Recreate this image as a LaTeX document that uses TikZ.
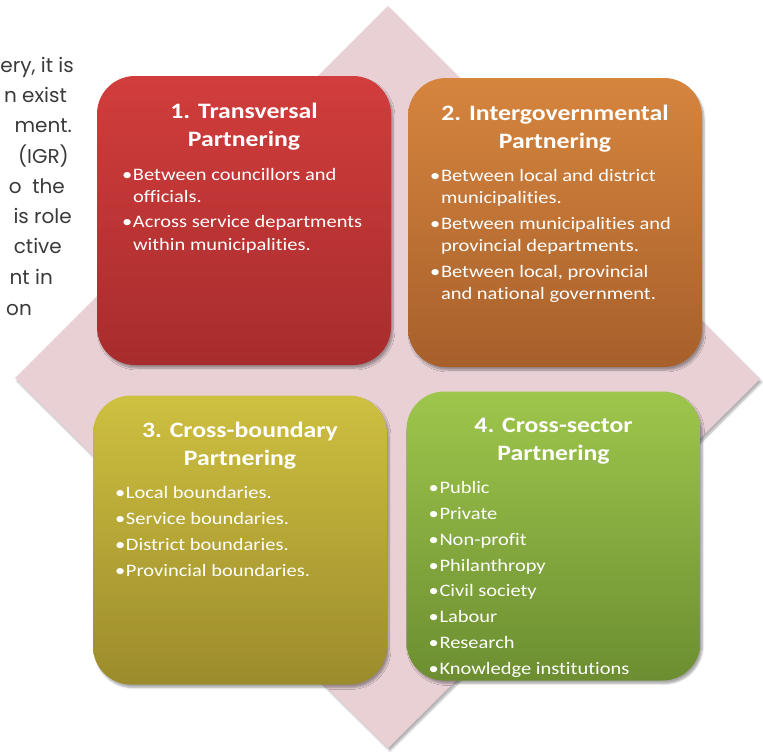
\documentclass[tikz,border=0pt]{standalone}
\usepackage{fontspec}
\setmainfont{Carlito}[FakeStretch=1.17, Ligatures=CommonOff]
\newfontfamily\pagefont{Poppins}
\usetikzlibrary{shadows.blur}

\definecolor{diamondpink}{HTML}{E8D0D5}
\definecolor{pagegray}{HTML}{3A3A3A}
\definecolor{redtop}{HTML}{D13D3C}
\definecolor{redbot}{HTML}{A82C2D}
\definecolor{orangetop}{HTML}{D6853E}
\definecolor{orangebot}{HTML}{A7602B}
\definecolor{yellowtop}{HTML}{CEC040}
\definecolor{yellowbot}{HTML}{9C8B2C}
\definecolor{greentop}{HTML}{9EC64C}
\definecolor{greenbot}{HTML}{6C8E31}

\newcommand{\pbul}{\makebox[11pt][l]{\textbullet}}
\newcommand{\pind}{\hspace*{11pt}}

\tikzset{
  partbox/.style={rectangle, rounded corners=38pt, minimum width=294pt,
    minimum height=289pt, inner sep=0pt,
    blur shadow={shadow xshift=2pt, shadow yshift=-3pt, shadow blur steps=6, shadow opacity=35}},
  parttitle/.style={anchor=north, align=center, text=white, inner sep=0pt,
    font=\fontsize{22}{28}\selectfont\bfseries},
  partlist/.style={anchor=north west, align=left, text=white, inner sep=0pt,
    font=\fontsize{17.5}{22.5}\selectfont},
  pagetext/.style={anchor=base east, text=pagegray, inner sep=0pt,
    font=\pagefont\fontsize{20}{20}\selectfont}
}

\begin{document}
\begin{tikzpicture}[x=1pt,y=-1pt]
\clip (0,0) rectangle (763,755);

% text of the page behind
\node[pagetext] (p1) at (74,72) {ery, it is};
\node[pagetext] (p2) at (67,102) {n exist};
\node[pagetext] (p3) at (72,132) {ment.};
\node[pagetext] (p4) at (69,163) {(IGR)};
\node[pagetext] (p5) at (65,193) {o\ \ the};
\node[pagetext] (p6) at (72,223) {is role};
\node[pagetext] (p7) at (62,253) {ctive};
\node[pagetext] (p8) at (53,284) {nt in};
\node[pagetext] (p9) at (32,315) {on};

% diamond
\path[fill=diamondpink, blur shadow={shadow xshift=2pt, shadow yshift=-3pt, shadow blur steps=5, shadow opacity=30}]
  (388,6) -- (760,379) -- (388,748) -- (15,378) -- cycle;

% boxes
\node[partbox, top color=redtop, bottom color=redbot] (trans) at (244,220.5) {};
\node[partbox, top color=orangetop, bottom color=orangebot] (inter) at (555,222.5) {};
\node[partbox, top color=yellowtop, bottom color=yellowbot] (cross) at (240,540) {};
\node[partbox, top color=greentop, bottom color=greenbot] (sector) at (553.5,536) {};

% titles
\node[parttitle] (t1) at ([yshift=-27pt]trans.north) {1. Transversal\\Partnering};
\node[parttitle] (t2) at ([yshift=-27pt]inter.north) {2. Intergovernmental\\Partnering};
\node[parttitle] (t3) at ([yshift=-27pt]cross.north) {3. Cross-boundary\\Partnering};
\node[parttitle] (t4) at ([yshift=-27pt]sector.north) {4. Cross-sector\\Partnering};

% bullets
\node[partlist] (l1) at ([xshift=25pt,yshift=-92pt]trans.north west)
  {\pbul Between councillors and\\ \pind officials.\\[2.5pt]
   \pbul Across service departments\\ \pind within municipalities.};
\node[partlist] (l2) at ([xshift=22pt,yshift=-91pt]inter.north west)
  {\pbul Between local and district\\ \pind municipalities.\\[3pt]
   \pbul Between municipalities and\\ \pind provincial departments.\\[3pt]
   \pbul Between local, provincial\\ \pind and national government.};
\node[partlist] (l3) at ([xshift=22pt,yshift=-91pt]cross.north west)
  {\pbul Local boundaries.\\[3.5pt] \pbul Service boundaries.\\[3.5pt]
   \pbul District boundaries.\\[3.5pt] \pbul Provincial boundaries.};
\node[partlist] (l4) at ([xshift=22pt,yshift=-90pt]sector.north west)
  {\pbul Public\\[3.3pt] \pbul Private\\[3.3pt] \pbul Non-profit\\[3.3pt]
   \pbul Philanthropy\\[3.3pt] \pbul Civil society\\[3.3pt] \pbul Labour\\[3.3pt]
   \pbul Research\\[3.3pt] \pbul Knowledge institutions};
\end{tikzpicture}
\end{document}
